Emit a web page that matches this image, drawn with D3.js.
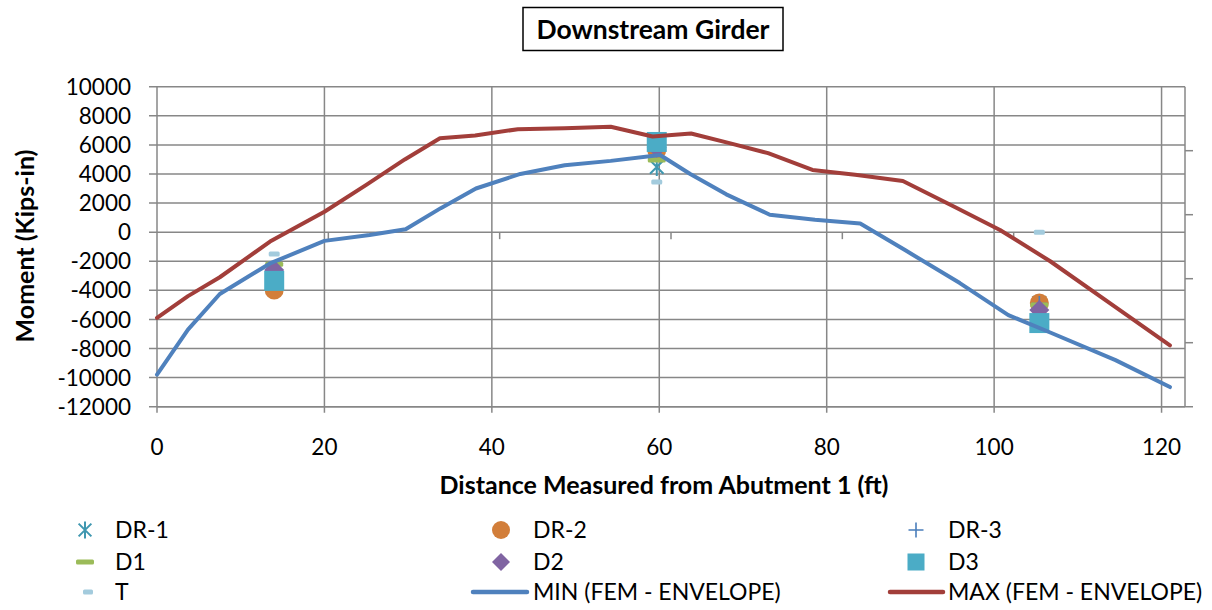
<!DOCTYPE html>
<html><head><meta charset="utf-8">
<script src="https://d3js.org/d3.v7.min.js"></script>
<style>body{margin:0;background:#fff} svg{display:block} text{font-family:Lato,"Open Sans",sans-serif;fill:#000}</style>
</head><body><svg id="c" width="1212" height="610"></svg>
<script>
// ---------- data ----------
const chartTitle = "Downstream Girder";
const xTitle = "Distance Measured from Abutment 1 (ft)";
const yTitle = "Moment (Kips-in)";
const xTickVals = [0, 20, 40, 60, 80, 100, 120];
const yTickVals = [-12000, -10000, -8000, -6000, -4000, -2000, 0, 2000, 4000, 6000, 8000, 10000];

const maxX = [0, 3.7, 7.5, 13.5, 20, 25, 29.6, 33.8, 38, 43.1, 48.7, 54.2, 59.2, 63.8, 68.5, 73, 78.3, 83.4, 89.1, 95.3, 100.7, 106.7, 114.5, 121];
const maxY = [-5900, -4400, -3100, -650, 1400, 3250, 5000, 6450, 6650, 7080, 7150, 7250, 6580, 6780, 6100, 5430, 4280, 3940, 3520, 1730, 150, -2000, -5150, -7780];

const minX = [0, 3.7, 7.5, 13.5, 20, 25.4, 29.7, 33.9, 38.1, 43.4, 48.7, 54.2, 60.1, 63.7, 68, 73.2, 78.6, 84, 89.4, 95.9, 101.7, 106.7, 114.5, 121];
const minY = [-9800, -6700, -4250, -2150, -600, -200, 200, 1650, 3000, 4000, 4600, 4900, 5300, 4000, 2600, 1200, 850, 600, -1250, -3500, -5700, -6900, -8800, -10650];

const ptsDR1 = [[14, -3100], [59.7, 4480], [105.4, -4870]];
const ptsDR2 = [[14, -3980], [59.7, 5650], [105.4, -4870]];
const ptsDR3 = [[14, -3200], [59.7, 5800], [105.4, -4900]];
const ptsD1  = [[14, -2200], [59.7, 4960], [105.4, -5000]];
const ptsD2  = [[14, -2600], [59.7, 5800], [105.4, -5350]];
const ptsD3  = [[14, -3350], [59.7, 6200], [105.4, -6250]];
const ptsT   = [[14, -1500], [59.7, 3450], [105.4, 0]];

// ---------- layout ----------
const svg = d3.select("#c");
const L = 157, R = 1185, T = 86.7, B = 406.7;
const x = d3.scaleLinear().domain([0, 122.8]).range([L, R]);
const y = d3.scaleLinear().domain([-12000, 10000]).range([B, T]);
const x2 = d3.scaleLinear().domain([0, 6]).range([L, R]);
const y2 = d3.scaleLinear().domain([0, 5]).range([B, T]);
const grid = "#878787";

const colors = {
  dr1: "#3F97B0", dr2: "#D27E3A", dr3: "#4A7EBB", d1: "#9BBB59",
  d2: "#8064A2", d3: "#4BACC6", t: "#A3CBDD", min: "#4F81BD", max: "#A23E3A"
};

// gridlines
const g = svg.append("g");
g.selectAll(".hg").data(yTickVals).enter().append("line")
  .attr("x1", L - 8).attr("x2", R).attr("y1", d => y(d)).attr("y2", d => y(d))
  .attr("stroke", grid).attr("stroke-width", 1.5);
g.selectAll(".vg").data(xTickVals).enter().append("line")
  .attr("x1", d => x(d)).attr("x2", d => x(d)).attr("y1", T).attr("y2", B + 6)
  .attr("stroke", grid).attr("stroke-width", 1.5);
// right border / secondary axis
g.append("line").attr("x1", R).attr("x2", R).attr("y1", T).attr("y2", B).attr("stroke", grid).attr("stroke-width", 1.5);
g.append("line").attr("x1", L).attr("x2", R + 8).attr("y1", B).attr("y2", B).attr("stroke", grid).attr("stroke-width", 1.5);
g.selectAll(".rt").data([1, 2, 3, 4]).enter().append("line")
  .attr("x1", R).attr("x2", R + 8).attr("y1", d => y2(d)).attr("y2", d => y2(d))
  .attr("stroke", grid).attr("stroke-width", 1.5);
// secondary x ticks on the zero line
g.selectAll(".st").data([1, 2, 3, 4, 5]).enter().append("line")
  .attr("x1", d => x2(d)).attr("x2", d => x2(d)).attr("y1", y(0)).attr("y2", y(0) + 7)
  .attr("stroke", grid).attr("stroke-width", 1.5);

// tick labels
svg.selectAll(".yl").data(yTickVals).enter().append("text")
  .attr("x", 131).attr("y", d => y(d)).attr("dy", "0.36em").attr("text-anchor", "end")
  .style("font-size", "22.5px").text(d => d);
svg.selectAll(".xl").data(xTickVals).enter().append("text")
  .attr("x", d => x(d)).attr("y", 447).attr("dy", "0.36em").attr("text-anchor", "middle")
  .style("font-size", "22.5px").text(d => d);

// axis titles
svg.append("text").attr("transform", "translate(25,246) rotate(-90)").attr("text-anchor", "middle")
  .attr("dy", "0.36em").style("font-size", "25px").style("font-weight", "bold").text(yTitle);
svg.append("text").attr("x", 664).attr("y", 485).attr("text-anchor", "middle").attr("dy", "0.36em")
  .style("font-size", "25px").style("font-weight", "bold").text(xTitle);

// title box
svg.append("rect").attr("x", 523).attr("y", 7.5).attr("width", 260).attr("height", 43)
  .attr("fill", "#fff").attr("stroke", "#000").attr("stroke-width", 1.5);
svg.append("text").attr("x", 653).attr("y", 29).attr("dy", "0.36em").attr("text-anchor", "middle")
  .style("font-size", "26.5px").style("font-weight", "bold").text(chartTitle);

// ---------- markers ----------
function drawMarker(sel, type, color, s) {
  if (type === "star") {
    const h = s / 2, k = h * 0.75;
    sel.append("path").attr("d", `M${-k},${-k}L${k},${k}M${-k},${k}L${k},${-k}M0,${-h}L0,${h}`)
      .attr("stroke", color).attr("stroke-width", 2).attr("fill", "none");
  } else if (type === "circle") {
    sel.append("circle").attr("r", s / 2).attr("fill", color);
  } else if (type === "plus") {
    const h = s / 2;
    sel.append("path").attr("d", `M${-h},0L${h},0M0,${-h}L0,${h}`)
      .attr("stroke", color).attr("stroke-width", 1.6).attr("fill", "none");
  } else if (type === "dash") {
    sel.append("rect").attr("x", -s / 2).attr("y", -2.5).attr("width", s).attr("height", 5).attr("rx", 1.5).attr("fill", color);
  } else if (type === "diamond") {
    const h = s / 2;
    sel.append("path").attr("d", `M0,${-h}L${h},0L0,${h}L${-h},0Z`).attr("fill", color);
  } else if (type === "square") {
    sel.append("rect").attr("x", -s / 2).attr("y", -s / 2).attr("width", s).attr("height", s).attr("fill", color);
  }
}

const pointSeries = [
  {name: "DR-1", data: ptsDR1, type: "star", color: colors.dr1, size: 18, lsize: 17},
  {name: "DR-2", data: ptsDR2, type: "circle", color: colors.dr2, size: 19, lsize: 18},
  {name: "DR-3", data: ptsDR3, type: "plus", color: colors.dr3, size: 15, lsize: 15},
  {name: "D1", data: ptsD1, type: "dash", color: colors.d1, size: 18, lsize: 18},
  {name: "D2", data: ptsD2, type: "diamond", color: colors.d2, size: 20, lsize: 18},
  {name: "D3", data: ptsD3, type: "square", color: colors.d3, size: 20, lsize: 17},
  {name: "T", data: ptsT, type: "dash", color: colors.t, size: 11, lsize: 10}
];

const mg = svg.append("g");
pointSeries.forEach(s => {
  s.data.forEach(p => {
    const gg = mg.append("g").attr("transform", `translate(${x(p[0])},${y(p[1])})`);
    drawMarker(gg, s.type, s.color, s.size);
  });
});

// ---------- lines ----------
const line = d3.line().x(d => x(d[0])).y(d => y(d[1]));
const minData = minX.map((v, i) => [v, minY[i]]);
const maxData = maxX.map((v, i) => [v, maxY[i]]);
svg.append("path").attr("d", line(minData)).attr("fill", "none").attr("stroke", colors.min)
  .attr("stroke-width", 4).attr("stroke-linejoin", "round").attr("stroke-linecap", "round");
svg.append("path").attr("d", line(maxData)).attr("fill", "none").attr("stroke", colors.max)
  .attr("stroke-width", 4).attr("stroke-linejoin", "round").attr("stroke-linecap", "round");

// ---------- legend ----------
const colX = [{m: 85, t: 115}, {m: 501, t: 533}, {m: 916, t: 948}];
const rowY = [530, 562, 592];
const legendItems = [
  ...pointSeries.slice(0, 6),
  pointSeries[6],
  {name: "MIN (FEM - ENVELOPE)", type: "line", color: colors.min, x1: 473, x2: 527},
  {name: "MAX (FEM - ENVELOPE)", type: "line", color: colors.max, x1: 890, x2: 943}
];
const lg = svg.append("g");
legendItems.forEach((it, i) => {
  const c = colX[i % 3], r = rowY[Math.floor(i / 3)];
  if (it.type === "line") {
    lg.append("line").attr("x1", it.x1).attr("x2", it.x2).attr("y1", r).attr("y2", r)
      .attr("stroke", it.color).attr("stroke-width", 4.5).attr("stroke-linecap", "round");
  } else {
    const gg = lg.append("g").attr("transform", `translate(${it.name === "T" ? c.m + 3 : c.m},${r})`);
    drawMarker(gg, it.type, it.color, it.lsize);
  }
  lg.append("text").attr("x", c.t).attr("y", r).attr("dy", "0.36em").style("font-size", "23px").text(it.name);
});
</script></body></html>
